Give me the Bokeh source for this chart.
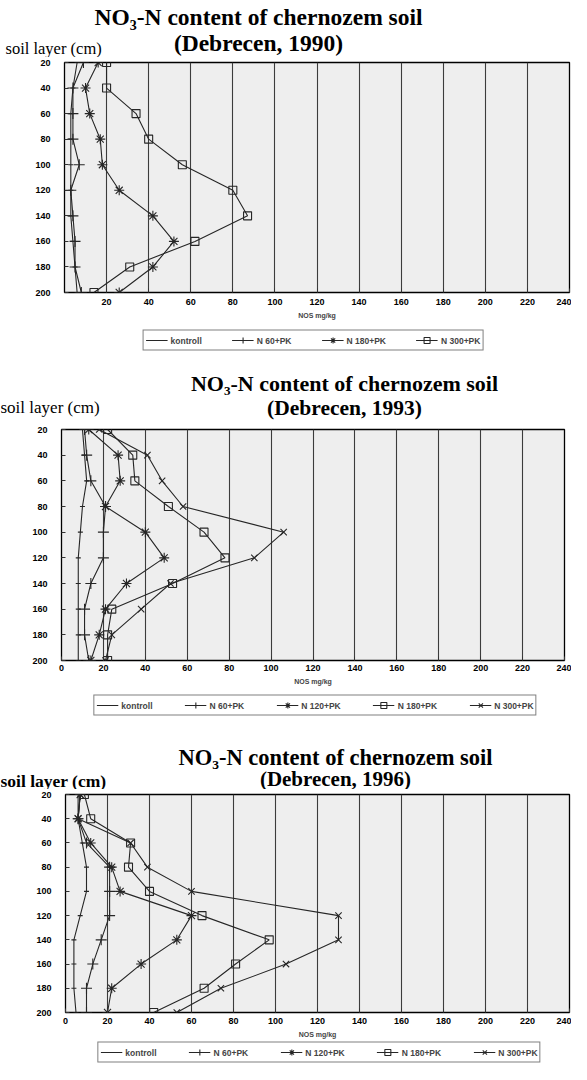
from bokeh.plotting import figure
from bokeh.models import Range1d, FixedTicker, Label, Legend, LegendItem
from bokeh.layouts import column
from bokeh.embed import file_html
from bokeh.resources import INLINE

# ---------------- data ----------------
layers = [20, 40, 60, 80, 100, 120, 140, 160, 180, 200]
x_ticks = [0, 20, 40, 60, 80, 100, 120, 140, 160, 180, 200, 220, 240]
x_ticks_1990 = [20, 40, 60, 80, 100, 120, 140, 160, 180, 200, 220, 240]

title_text = "NO\u2083-N content of chernozem soil"
years = ["(Debrecen, 1990)", "(Debrecen, 1993)", "(Debrecen, 1996)"]
y_label = "soil layer (cm)"
x_label = "NOS mg/kg"

labels_1990 = ["kontroll", "N 60+PK", "N 180+PK", "N 300+PK"]
kontroll_1990 = [6, 4, 3, 3, 3, 3, 3, 4, 5, 6]
n60_1990 = [9, 4, 4, 4, 7, 3, 4, 5, 5, 8]
n180_1990 = [16, 10, 12, 17, 18, 26, 42, 52, 42, 26]
n300_1990 = [20, 20, 34, 40, 56, 80, 87, 62, 31, 14]

labels_1993 = ["kontroll", "N 60+PK", "N 120+PK", "N 180+PK", "N 300+PK"]
kontroll_1993 = [10, 11, 12, 10, 9, 8, 8, 8, 8, 8]
n60_1993 = [11, 12, 14, 21, 20, 20, 14, 11, 11, 13]
n120_1993 = [13, 27, 28, 21, 40, 49, 31, 21, 18, 14]
n180_1993 = [22, 34, 35, 51, 68, 78, 53, 24, 22, 22]
n300_1993 = [18, 41, 48, 58, 106, 92, 52, 38, 24, 21]

labels_1996 = ["kontroll", "N 60+PK", "N 120+PK", "N 180+PK", "N 300+PK"]
kontroll_1996 = [6, 6, 8, 10, 10, 7, 4, 4, 4, 5]
n60_1996 = [7, 6, 10, 21, 21, 21, 17, 13, 10, 10]
n120_1996 = [7, 6, 12, 22, 26, 60, 53, 36, 22, 20]
n180_1996 = [9, 12, 31, 30, 40, 65, 97, 81, 66, 42]
n300_1996 = [7, 6, 31, 39, 60, 130, 130, 105, 74, 53]

# ---------------- styles ----------------
W = 571
INK = "#262626"
MARK = {
    "dash": dict(marker="dash", size=5),
    "cross": dict(marker="cross", size=11),
    "asterisk": dict(marker="asterisk", size=10),
    "square": dict(marker="square", size=8),
    "x": dict(marker="x", size=9),
}


def blank_fig(h, xr, yr, left=0):
    f = figure(width=W, height=h, output_backend="svg", toolbar_location=None,
               x_range=xr, y_range=yr, x_axis_location=None,
               y_axis_location=None, min_border=0, min_border_left=left,
               min_border_right=0, min_border_top=0, min_border_bottom=0,
               outline_line_color=None, background_fill_color="white",
               border_fill_color="white", frame_align=False)
    f.grid.visible = False
    return f


def title_fig(h, year, g):
    f = blank_fig(h, Range1d(0, W), Range1d(h, 0))
    cx, y1, y2, s1, s2 = g["title"]
    f.add_layout(Label(x=cx, y=y1, text=title_text, text_align="center",
                       text_baseline="middle", text_font="Liberation Serif",
                       text_font_style="bold", text_font_size=s1,
                       text_color="black"))
    f.add_layout(Label(x=cx, y=y2, text=year, text_align="center",
                       text_baseline="middle", text_font="Liberation Serif",
                       text_font_style="bold", text_font_size=s2,
                       text_color="black"))
    sx, sy, sbold, ssize = g["soil"]
    f.add_layout(Label(x=sx, y=sy, text=y_label, text_align="left",
                       text_baseline="middle", text_font="Liberation Serif",
                       text_font_style="bold" if sbold else "normal",
                       text_font_size=ssize, text_color="black"))
    return f


def chart_fig(series, markers, ticks, g):
    h, bl, br, bt, bb = g["chart"]
    p = figure(width=W, height=h, output_backend="svg", toolbar_location=None,
               x_range=Range1d(0, 240), y_range=Range1d(200, 20),
               min_border_left=bl, min_border_right=br, min_border_top=bt,
               min_border_bottom=bb, background_fill_color="#eeeeee",
               border_fill_color="white", outline_line_color="black",
               outline_line_width=1.3, frame_align=False)
    p.ygrid.visible = False
    p.xgrid.ticker = FixedTicker(ticks=x_ticks)
    p.xgrid.grid_line_color = "#3c3c3c"
    p.xgrid.grid_line_width = 1.1
    p.xaxis.ticker = FixedTicker(ticks=ticks)
    p.yaxis.ticker = FixedTicker(ticks=layers)
    for ax in (p.xaxis, p.yaxis):
        ax.axis_line_color = None
        ax.major_tick_in = 4
        ax.major_tick_out = 0
        ax.minor_tick_line_color = None
        ax.major_tick_line_color = "#333333"
        ax.major_label_text_font = "Liberation Sans"
        ax.major_label_text_font_style = "bold"
        ax.major_label_text_font_size = "9px"
        ax.major_label_text_color = "black"
    p.yaxis.major_label_standoff = 14
    p.xaxis.major_label_standoff = g["xstand"]
    p.xaxis.axis_label = x_label
    p.xaxis.axis_label_text_font = "Liberation Sans"
    p.xaxis.axis_label_text_font_style = "bold"
    p.xaxis.axis_label_text_font_size = "7px"
    p.xaxis.axis_label_standoff = 4
    for vals, mk in zip(series, markers):
        p.line(vals, layers, line_color=INK, line_width=1.1)
        p.scatter(vals, layers, line_color=INK, fill_alpha=0,
                  line_width=1.1, **MARK[mk])
    return p


def legend_fig(h, labels, series, markers, spacing, left):
    # series are plotted outside this figure's ranges; only the legend shows
    f = blank_fig(h, Range1d(-2, -1), Range1d(-2, -1), left=left)
    items = []
    for lab, vals, mk in zip(labels, series, markers):
        lr = f.line(vals, layers, line_color=INK, line_width=1.1)
        sr = f.scatter(vals, layers, line_color=INK, fill_alpha=0,
                       line_width=1.1, **MARK[mk])
        items.append(LegendItem(label=lab, renderers=[lr, sr]))
    leg = Legend(items=items, orientation="horizontal", location="center",
                 border_line_color="black", border_line_width=1.6,
                 label_text_font="Liberation Sans", label_text_font_style="bold",
                 label_text_font_size="8.5px", glyph_width=22, glyph_height=15,
                 label_standoff=3, spacing=spacing, padding=2, margin=0,
                 background_fill_color="white")
    f.add_layout(leg, "center")
    return f


g1 = dict(title=(258, 16, 42, "23.5px", "23.5px"),
          soil=(5, 48, False, "16.5px"),
          chart=(268, 64, 2, 5, 33), xstand=6)
g2 = dict(title=(344, 28, 52, "22px", "21.5px"),
          soil=(0, 52, False, "17px"),
          chart=(268, 61, 7, 7, 30), xstand=4)
g3 = dict(title=(335, 37, 58, "22.5px", "21px"),
          soil=(0, 60, True, "17.5px"),
          chart=(251, 65, 2, 5, 28), xstand=5)

mk4 = ["dash", "cross", "asterisk", "square"]
mk5 = ["dash", "cross", "asterisk", "square", "x"]

s1990 = [kontroll_1990, n60_1990, n180_1990, n300_1990]
s1993 = [kontroll_1993, n60_1993, n120_1993, n180_1993, n300_1993]
s1996 = [kontroll_1996, n60_1996, n120_1996, n180_1996, n300_1996]

panel1 = [title_fig(57, years[0], g1),
          chart_fig(s1990, mk4, x_ticks_1990, g1),
          legend_fig(30, labels_1990, s1990, mk4, 30, 55)]
panel2 = [title_fig(67, years[1], g2),
          chart_fig(s1993, mk5, x_ticks, g2),
          legend_fig(30, labels_1993, s1993, mk5, 32, 59)]
panel3 = [title_fig(69, years[2], g3),
          chart_fig(s1996, mk5, x_ticks, g3),
          legend_fig(24, labels_1996, s1996, mk5, 32, 67)]

layout = column(*panel1, *panel2, *panel3, spacing=0)
open("out.html", "w").write(file_html(layout, INLINE))
